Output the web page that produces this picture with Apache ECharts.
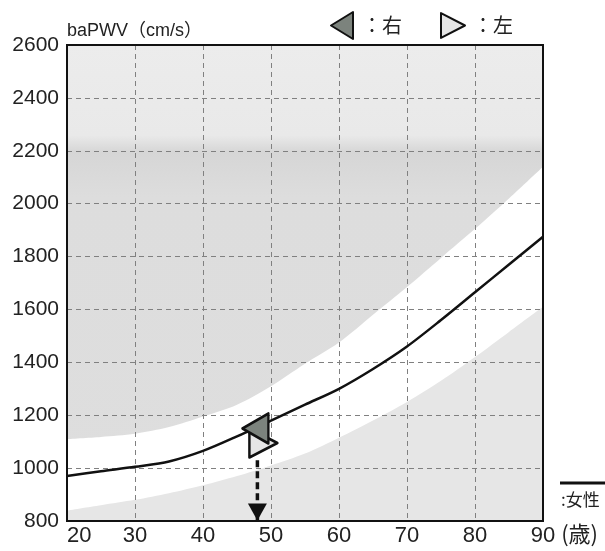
<!DOCTYPE html>
<html>
<head>
<meta charset="utf-8">
<script src="https://cdn.jsdelivr.net/npm/echarts@6/dist/echarts.min.js"></script>
<style>
html,body{margin:0;padding:0;background:#fff;overflow:hidden;}
#chart{width:605px;height:551px;}
</style>
</head>
<body>
<div id="chart"></div>
<script>
// ---- data ----
var ages       = [20, 25, 30, 35, 40, 45, 50, 55, 60, 65, 70, 75, 80, 85, 90];
var upperBound = [1110, 1118, 1130, 1155, 1195, 1240, 1310, 1395, 1475, 1580, 1685, 1795, 1905, 2020, 2140];
var meanFemale = [970, 988, 1005, 1025, 1065, 1120, 1180, 1240, 1300, 1375, 1460, 1560, 1665, 1770, 1875];
var lowerBound = [840, 860, 880, 905, 935, 970, 1010, 1055, 1115, 1180, 1250, 1330, 1420, 1515, 1610];
var patientAge = 48;
var rightPWV   = 1150;
var leftPWV    = 1095;
var yTicks = [800, 1000, 1200, 1400, 1600, 1800, 2000, 2200, 2400, 2600];
var xTicks = [20, 30, 40, 50, 60, 70, 80, 90];

function pairs(xs, ys){ return xs.map(function(x,i){ return [x, ys[i]]; }); }

var leftTri  = 'path://M22,0 L22,27 L0,13.5 Z';
var rightTri = 'path://M0,0 L0,27 L26,13.5 Z';

var chart = echarts.init(document.getElementById('chart'));
chart.setOption({
  animation: false,
  grid: { left: 67, right: 62, top: 45, bottom: 30, show: true, containLabel: false,
          outerBoundsMode: 'none', z: 5,
          borderColor: '#111', borderWidth: 2, backgroundColor: 'transparent' },
  legend: {
    left: 330, top: 11, padding: 0, itemWidth: 24, itemHeight: 27, itemGap: 38,
    formatter: '：{name}',
    textStyle: { fontSize: 20, color: '#222', fontFamily: 'Noto Sans CJK JP', padding: [0,0,0,3] },
    data: [ { name: '右', icon: leftTri }, { name: '左', icon: rightTri } ],
    selectedMode: false
  },
  xAxis: {
    type: 'value', min: xTicks[0], max: xTicks[xTicks.length-1], interval: 10,
    name: '(歳)', nameLocation: 'end', nameGap: 9,
    nameTextStyle: { fontSize: 22, color: '#222', fontFamily: 'Noto Sans CJK JP',
                     align: 'left', verticalAlign: 'top', padding: [2,0,0,0] },
    axisLine: { lineStyle: { color: '#111', width: 2 } },
    axisTick: { show: false },
    axisLabel: { fontSize: 22, color: '#222', margin: 4, alignMinLabel: 'left',
                 fontFamily: 'Liberation Sans, sans-serif',
                 formatter: function(v){ return String(v); } },
    splitLine: { show: true, showMinLine: false, showMaxLine: false,
                 lineStyle: { color: '#808080', type: [5,4], width: 1 } }
  },
  yAxis: {
    type: 'value', min: yTicks[0], max: yTicks[yTicks.length-1], interval: 200,
    name: 'baPWV（cm/s）', nameLocation: 'end', nameGap: 5,
    nameTextStyle: { fontSize: 18, color: '#222', align: 'left', verticalAlign: 'bottom',
                     fontFamily: 'Liberation Sans, Noto Sans CJK JP' },
    axisLine: { show: true, lineStyle: { color: '#111', width: 2 } },
    axisTick: { show: false },
    axisLabel: { fontSize: 21, color: '#222', margin: 8,
                 fontFamily: 'Liberation Sans, sans-serif',
                 formatter: function(v){ return String(v); } },
    splitLine: { show: true, showMinLine: false, showMaxLine: false,
                 lineStyle: { color: '#808080', type: [5,4], width: 1 } }
  },
  series: [
    { name: 'upperGray', type: 'line', data: pairs(ages, upperBound), smooth: 0.3,
      symbol: 'none', z: -1, lineStyle: { width: 0 }, silent: true,
      areaStyle: { origin: 'end', opacity: 1,
        color: { type: 'linear', x: 0, y: 45, x2: 0, y2: 521, global: true,
          colorStops: [
            { offset: 0, color: '#ececec' }, { offset: 0.19, color: '#e9e9e9' },
            { offset: 0.225, color: '#d6d6d6' }, { offset: 0.32, color: '#dddddd' },
            { offset: 1, color: '#dedede' } ] } } },
    { name: 'lowerGray', type: 'line', data: pairs(ages, lowerBound), smooth: 0.3,
      symbol: 'none', z: -1, lineStyle: { width: 0 }, silent: true,
      areaStyle: { origin: 'start', opacity: 1, color: '#e6e6e6' } },
    { name: '女性', type: 'line', data: pairs(ages, meanFemale), smooth: 0.3,
      symbol: 'none', z: 3,
      lineStyle: { color: '#111', width: 2.5 } },
    { name: 'arrow', type: 'line', z: 4, clip: false,
      lineStyle: { color: '#111', width: 3.5, type: [7,4] },
      itemStyle: { color: '#111' },
      data: [ { value: [patientAge, 1030], symbol: 'none' },
              { value: [patientAge, yTicks[0]], symbol: 'path://M0,0 L20,0 L10,18 Z',
                symbolSize: [19, 17], symbolOffset: [0, -9] } ] },
    { name: '左', type: 'scatter', z: 5, symbol: rightTri, symbolSize: [28, 29],
      symbolOffset: [6, 0], data: [[patientAge, leftPWV]],
      itemStyle: { color: '#e6e6e6', borderColor: '#111', borderWidth: 2.5, borderJoin: 'round', opacity: 1 } },
    { name: '右', type: 'scatter', z: 6, symbol: leftTri, symbolSize: [26, 30],
      symbolOffset: [-2, 0], data: [[patientAge, rightPWV]],
      itemStyle: { color: '#7c837d', borderColor: '#111', borderWidth: 2.5, borderJoin: 'round', opacity: 1 } }
  ],
  graphic: [
    { type: 'line', shape: { x1: 560, y1: 483, x2: 610, y2: 483 },
      style: { stroke: '#111', lineWidth: 3 } },
    { type: 'text', left: 561, top: 491,
      style: { text: ':女性', fontSize: 17, fill: '#222', fontFamily: 'Noto Sans CJK JP' } }
  ]
});
</script>
</body>
</html>
